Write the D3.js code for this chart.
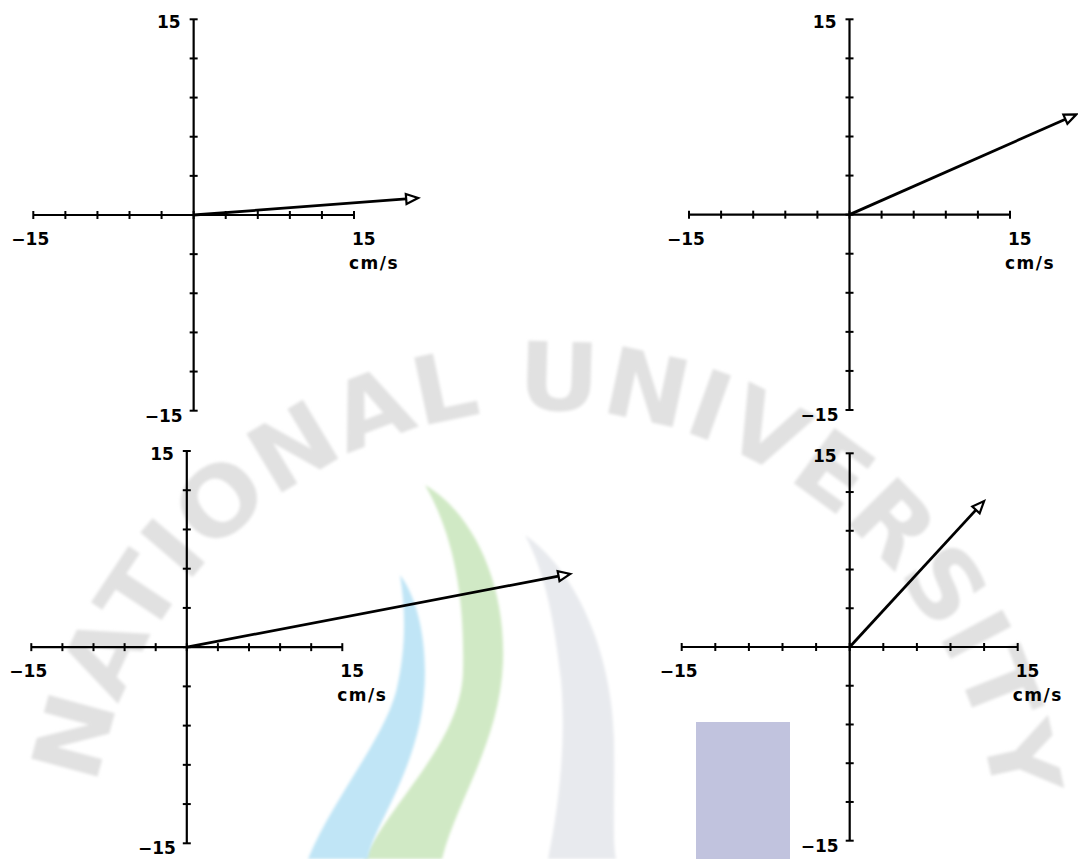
<!DOCTYPE html>
<html>
<head>
<meta charset="utf-8">
<script src="https://cdn.jsdelivr.net/npm/d3@7"></script>
<style>
  html, body { margin: 0; padding: 0; background: #ffffff; }
  svg { display: block; }
  .lbl { font-family: "DejaVu Sans", sans-serif; font-weight: bold; font-size: 17px; fill: #000; }
</style>
</head>
<body>
<svg id="chart" width="1078" height="859"></svg>
<script>
// Current vectors (east / north components, cm/s), one per panel
const uComponent = [21.0, 21.2, 37.0, 12.0];
const vComponent = [1.3, 7.7, 5.6, 11.3];

// Axis range and tick spacing shared by every panel
const axisDomain = [-15, 15];
const tickStep = 3;
const minLabel = "\u221215";
const maxLabel = "15";
const unitLabel = "cm/s";
const sealText = "NATIONAL UNIVERSITY";

const W = 1078, H = 859;
const svg = d3.select("#chart");

// ---- faint seal in the background ----
const bg = svg.append("g").attr("class", "seal");
const defs = svg.append("defs");
defs.append("filter").attr("id", "soft")
  .append("feGaussianBlur").attr("stdDeviation", 1.6);

bg.append("path")
  .attr("d", "M525,535 C575,570 612,650 614,740 C615,800 612,840 616,859 L548,859 C560,800 566,740 561,680 C554,620 546,575 525,535 Z")
  .attr("fill", "#e8eaee").attr("filter", "url(#soft)");
bg.append("path")
  .attr("d", "M425,485 C472,512 506,582 503,662 C500,742 456,802 442,859 L364,859 C392,800 461,742 463,672 C465,592 452,532 425,485 Z")
  .attr("fill", "#d0e9c5").attr("filter", "url(#soft)");
bg.append("path")
  .attr("d", "M400,575 C421,602 432,662 420,722 C405,790 372,830 368,859 L308,859 C332,800 382,742 396,692 C406,650 406,612 400,575 Z")
  .attr("fill", "#c0e5f6").attr("filter", "url(#soft)");
bg.append("rect")
  .attr("x", 696).attr("y", 722).attr("width", 94).attr("height", H - 722)
  .attr("fill", "#c1c3de");

const cx = 545, cy = 865, rBase = 455;
const a0 = -80 * Math.PI / 180, a1 = 82 * Math.PI / 180;
const arcPt = a => [cx + rBase * Math.sin(a), cy - rBase * Math.cos(a)];
const p0 = arcPt(a0), p1 = arcPt(a1);
defs.append("path").attr("id", "sealArc")
  .attr("d", `M${p0[0]},${p0[1]} A${rBase},${rBase} 0 0 1 ${p1[0]},${p1[1]}`);
bg.append("text")
  .attr("font-family", "DejaVu Sans, sans-serif")
  .attr("font-size", 94)
  .attr("font-weight", "bold")
  .attr("fill", "#e1e1e1")
  .attr("filter", "url(#soft)")
  .append("textPath")
  .attr("href", "#sealArc")
  .attr("textLength", rBase * (a1 - a0))
  .attr("lengthAdjust", "spacingAndGlyphs")
  .text(sealText);

// ---- vector panels ----
const frames = [
  { x0: 33.3, x1: 354.0, y0: 19.3, y1: 410.7 },
  { x0: 689.0, x1: 1010.0, y0: 19.3, y1: 410.0 },
  { x0: 31.3, x1: 342.3, y0: 451.0, y1: 843.3 },
  { x0: 681.7, x1: 1017.7, y0: 453.3, y1: 840.7 }
];

const tickValues = d3.range(axisDomain[0], axisDomain[1] + 0.001, tickStep);

frames.forEach((f, i) => {
  const x = d3.scaleLinear().domain(axisDomain).range([f.x0, f.x1]);
  const y = d3.scaleLinear().domain(axisDomain).range([f.y1, f.y0]);
  const g = svg.append("g");
  const ox = x(0), oy = y(0);

  // axis lines
  g.append("line").attr("x1", x(axisDomain[0])).attr("x2", x(axisDomain[1]))
    .attr("y1", oy).attr("y2", oy).attr("stroke", "#000").attr("stroke-width", 2.2);
  g.append("line").attr("x1", ox).attr("x2", ox)
    .attr("y1", y(axisDomain[1])).attr("y2", y(axisDomain[0])).attr("stroke", "#000").attr("stroke-width", 2.2);

  // ticks straddling each axis
  g.selectAll(".xt").data(tickValues).join("line")
    .attr("x1", d => x(d)).attr("x2", d => x(d))
    .attr("y1", oy - 4).attr("y2", oy + 4)
    .attr("stroke", "#000").attr("stroke-width", 2);
  g.selectAll(".yt").data(tickValues).join("line")
    .attr("y1", d => y(d)).attr("y2", d => y(d))
    .attr("x1", ox - 4).attr("x2", ox + 4)
    .attr("stroke", "#000").attr("stroke-width", 2);

  // end labels
  g.append("text").attr("class", "lbl").attr("text-anchor", "end")
    .attr("x", ox - 13).attr("y", y(axisDomain[1]) + 9).text(maxLabel);
  g.append("text").attr("class", "lbl").attr("text-anchor", "end")
    .attr("x", ox - 11).attr("y", y(axisDomain[0]) + 11).text(minLabel);
  g.append("text").attr("class", "lbl").attr("text-anchor", "middle")
    .attr("x", x(axisDomain[0]) - 3).attr("y", oy + 30).text(minLabel);
  g.append("text").attr("class", "lbl").attr("text-anchor", "start")
    .attr("x", x(axisDomain[1]) - 2).attr("y", oy + 30).text(maxLabel);
  g.append("text").attr("class", "lbl").attr("text-anchor", "start")
    .attr("letter-spacing", 1.5)
    .attr("x", x(axisDomain[1]) - 5).attr("y", oy + 54).text(unitLabel);

  // vector arrow with an open head
  const tx = x(uComponent[i]), ty = y(vComponent[i]);
  const ang = Math.atan2(ty - oy, tx - ox);
  const headLen = 12, headHalf = 5;
  const bx = tx - headLen * Math.cos(ang), by = ty - headLen * Math.sin(ang);
  g.append("line").attr("x1", ox).attr("y1", oy).attr("x2", bx).attr("y2", by)
    .attr("stroke", "#000").attr("stroke-width", 2.8);
  const nx = -Math.sin(ang), ny = Math.cos(ang);
  g.append("path")
    .attr("d", `M${tx},${ty} L${bx + headHalf * nx},${by + headHalf * ny} L${bx - headHalf * nx},${by - headHalf * ny} Z`)
    .attr("fill", "#fff").attr("stroke", "#000").attr("stroke-width", 2.2).attr("stroke-linejoin", "miter");
});
</script>
</body>
</html>
